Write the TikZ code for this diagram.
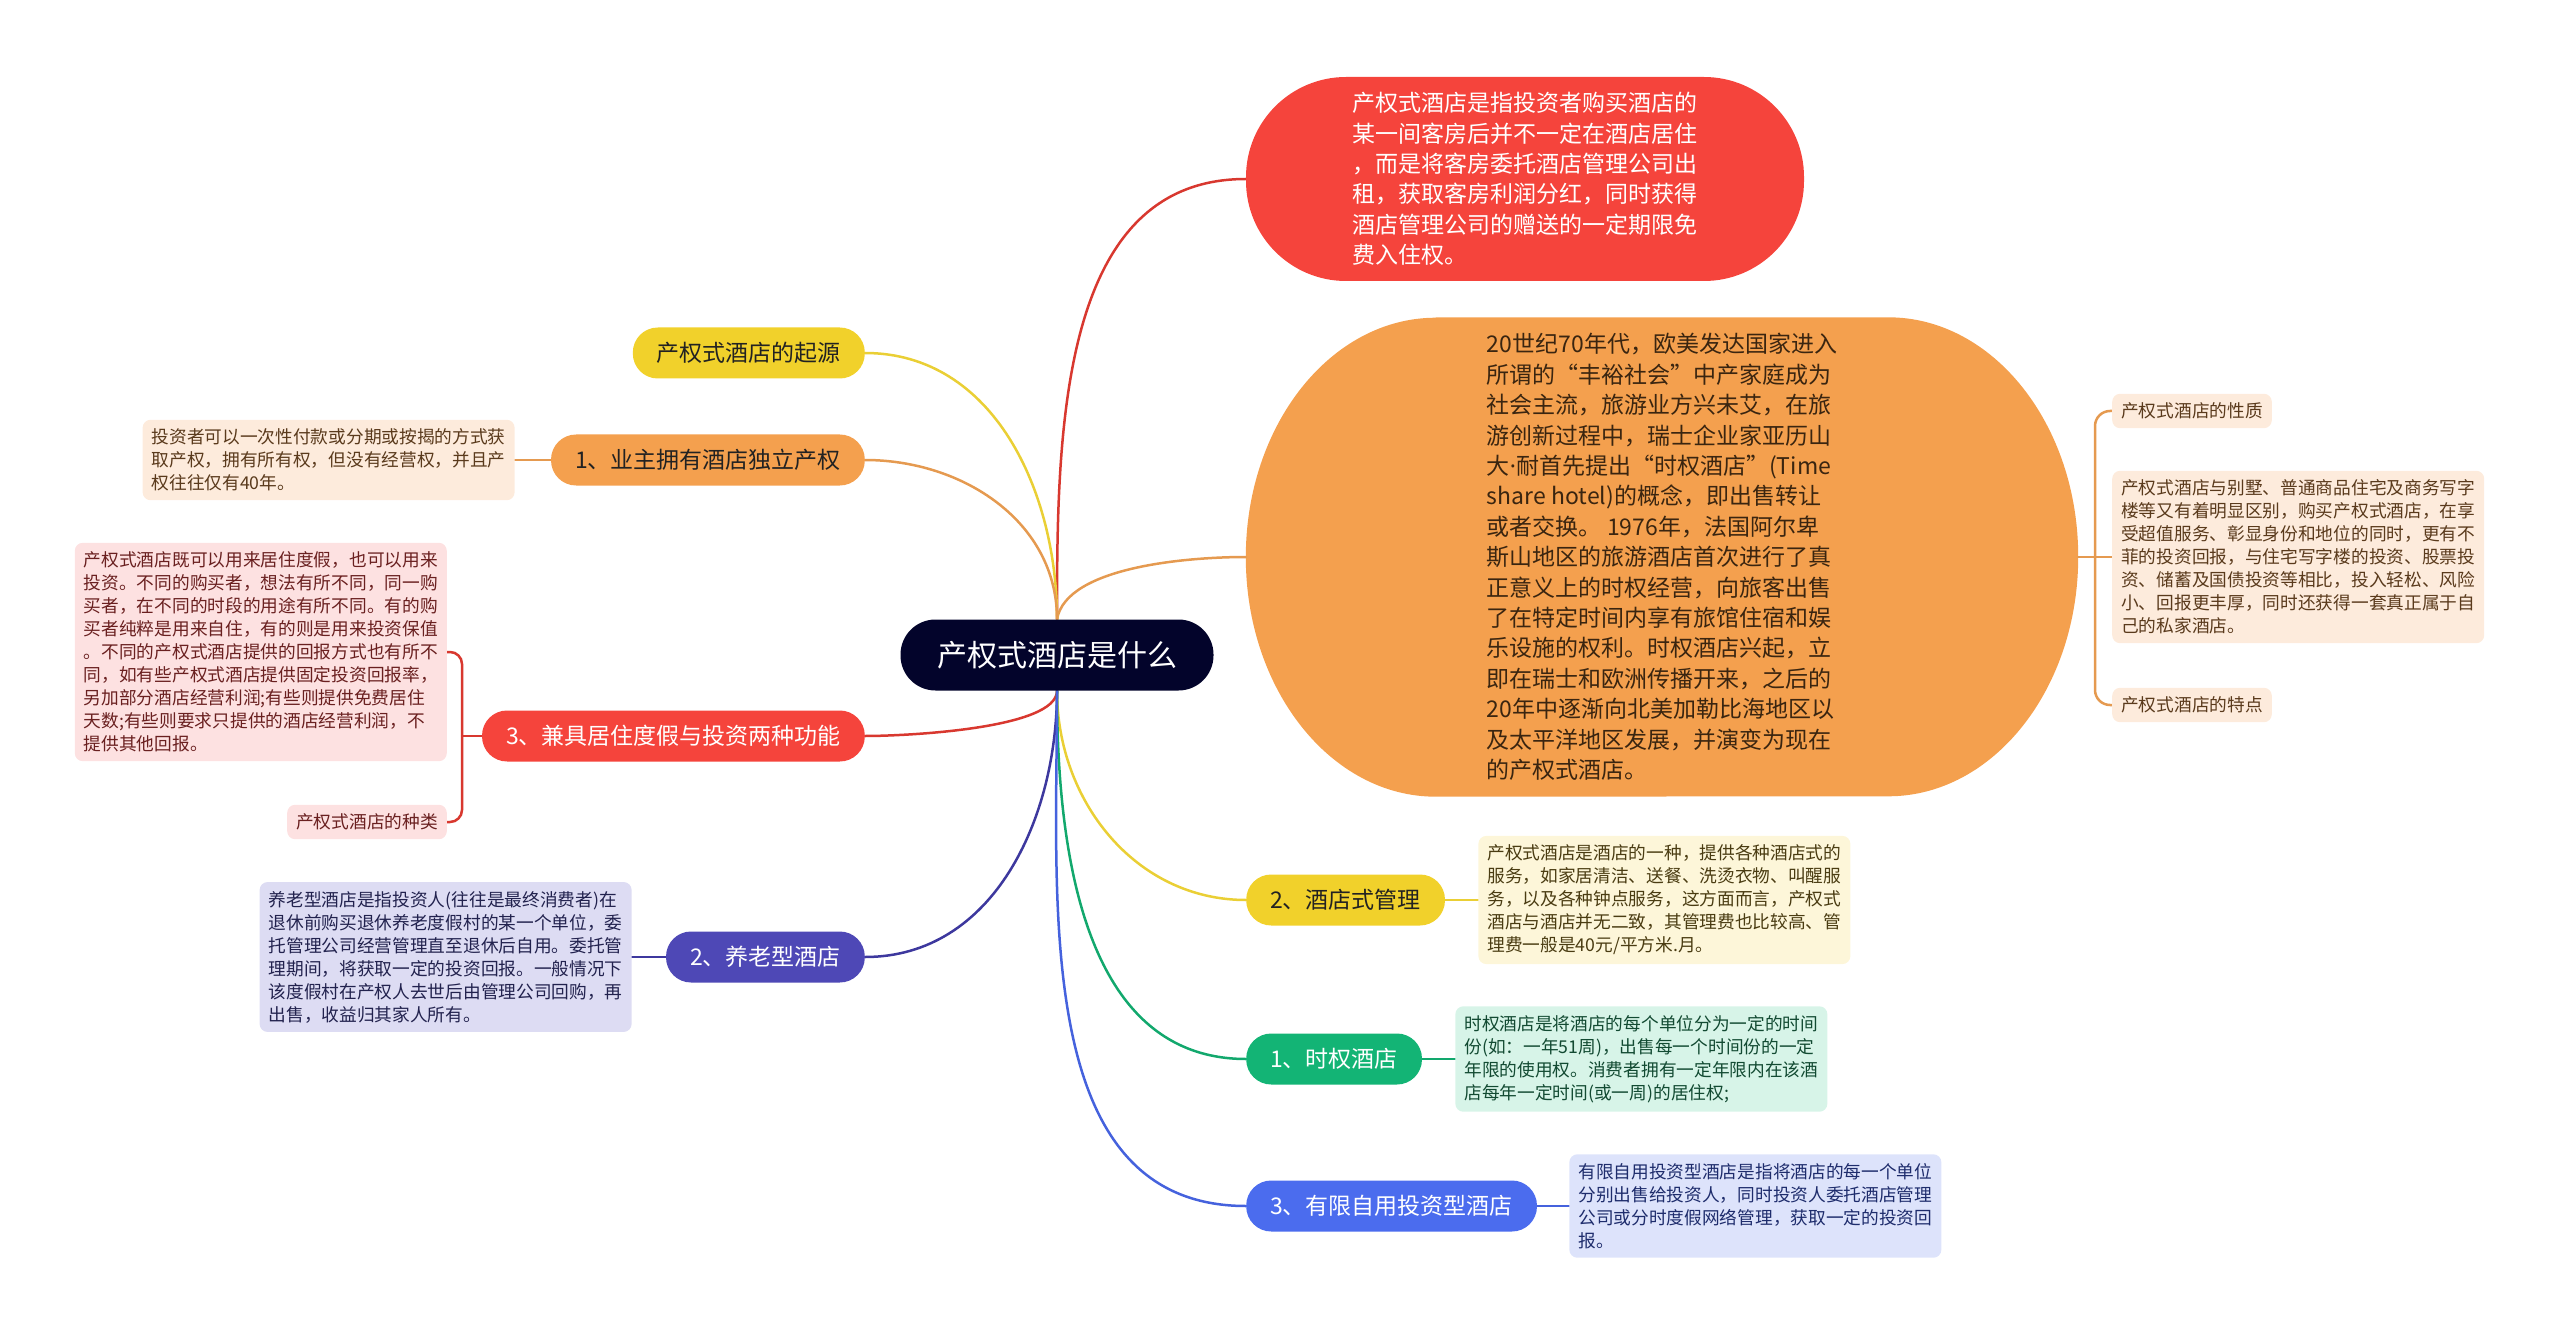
\documentclass[tikz,border=0pt]{standalone}
\usepackage{fontspec}
\setmainfont{Noto Sans CJK SC}
\newfontfamily\latinfont{Noto Sans}
\usepackage{tikz}
\usetikzlibrary{positioning,backgrounds,calc}

\definecolor{rootnavy}{HTML}{03042B}
\definecolor{redfill}{HTML}{F5443C}
\definecolor{redline}{HTML}{D8382F}
\definecolor{orangefill}{HTML}{F4A04E}
\definecolor{orangeline}{HTML}{E59A50}
\definecolor{yellowfill}{HTML}{F1D12B}
\definecolor{yellowline}{HTML}{EACF35}
\definecolor{purplefill}{HTML}{4E48B6}
\definecolor{purpleline}{HTML}{3D389E}
\definecolor{greenfill}{HTML}{13B475}
\definecolor{greenline}{HTML}{12A86D}
\definecolor{bluefill}{HTML}{4B6CEE}
\definecolor{blueline}{HTML}{4562DD}
\definecolor{darktext}{HTML}{222222}
\definecolor{bigtext}{HTML}{3A2510}
\definecolor{peachfill}{HTML}{FDEBDC}
\definecolor{peachtext}{HTML}{5A3A1C}
\definecolor{pinkfill}{HTML}{FDE1E1}
\definecolor{pinktext}{HTML}{6A2020}
\definecolor{lavfill}{HTML}{DDDCF3}
\definecolor{lavtext}{HTML}{22224E}
\definecolor{creamfill}{HTML}{FDF6D9}
\definecolor{creamtext}{HTML}{4A3C12}
\definecolor{mintfill}{HTML}{D7F4E8}
\definecolor{minttext}{HTML}{124A32}
\definecolor{perifill}{HTML}{DDE3FB}
\definecolor{peritext}{HTML}{1E2C6C}

\newcommand{\rootfont}{\fontsize{30}{36}\selectfont}
\newcommand{\topicfont}{\fontsize{23}{30.4}\selectfont}
\newcommand{\notefont}{\fontsize{17.7}{23}\selectfont}

\begin{document}
\begin{tikzpicture}[x=1pt, y=1pt,
  pill/.style={rounded corners=25pt, minimum height=51pt, inner xsep=24pt, inner ysep=0pt, font=\topicfont},
  note/.style={rounded corners=8pt, inner xsep=9pt, inner ysep=9pt, align=left, font=\notefont},
  longnote/.style={note, minimum width=372pt},
  branch/.style={line width=2.5pt, line cap=round}]
\useasboundingbox (0,0) rectangle (2560,-1337);

% Root
\node[fill=rootnavy, text=white, rounded corners=35pt, minimum width=313pt, minimum height=71pt, font=\rootfont] (root) at (1057,-655) {产权式酒店是什么};

% Right: definition and origin bubbles
\node[fill=redfill, text=white, rounded corners=100pt, minimum width=558pt, minimum height=204pt, align=left, font=\topicfont] (top) at (1525,-179) {产权式酒店是指投资者购买酒店的\\某一间客房后并不一定在酒店居住\\，而是将客房委托酒店管理公司出\\租，获取客房利润分红，同时获得\\酒店管理公司的赠送的一定期限免\\费入住权。};
\node[minimum width=832pt, minimum height=479pt, align=left, font=\topicfont, text=bigtext] (big) at (1662,-557) {20世纪70年代，欧美发达国家进入\\所谓的“丰裕社会”中产家庭成为\\社会主流，旅游业方兴未艾，在旅\\游创新过程中，瑞士企业家亚历山\\大{\latinfont ·}耐首先提出“时权酒店”(Time\\share hotel)的概念，即出售转让\\或者交换。 1976年，法国阿尔卑\\斯山地区的旅游酒店首次进行了真\\正意义上的时权经营，向旅客出售\\了在特定时间内享有旅馆住宿和娱\\乐设施的权利。时权酒店兴起，立\\即在瑞士和欧洲传播开来，之后的\\20年中逐渐向北美加勒比海地区以\\及太平洋地区发展，并演变为现在\\的产权式酒店。};

% Notes beside the origin bubble
\node[note, fill=peachfill, text=peachtext, anchor=west] (nature) at (2112,-411) {产权式酒店的性质};
\node[longnote, fill=peachfill, text=peachtext, anchor=west] (compare) at (2112,-557) {产权式酒店与别墅、普通商品住宅及商务写字\\楼等又有着明显区别，购买产权式酒店，在享\\受超值服务、彰显身份和地位的同时，更有不\\菲的投资回报，与住宅写字楼的投资、股票投\\资、储蓄及国债投资等相比，投入轻松、风险\\小、回报更丰厚，同时还获得一套真正属于自\\己的私家酒店。};
\node[note, fill=peachfill, text=peachtext, anchor=west] (feature) at (2112,-705) {产权式酒店的特点};

% Left branches
\node[pill, fill=yellowfill, text=darktext, anchor=east] (origin) at (865,-353) {产权式酒店的起源};
\node[pill, fill=orangefill, text=darktext, anchor=east] (own) at (865,-460) {1、业主拥有酒店独立产权};
\node[pill, fill=redfill, text=white, anchor=east] (dual) at (865,-736) {3、兼具居住度假与投资两种功能};
\node[pill, fill=purplefill, text=white, anchor=east] (pension) at (865,-957) {2、养老型酒店};

% Right branches
\node[pill, fill=yellowfill, text=darktext, anchor=west] (mgmt) at (1246,-900) {2、酒店式管理};
\node[pill, fill=greenfill, text=white, anchor=west] (tshare) at (1246,-1059) {1、时权酒店};
\node[pill, fill=bluefill, text=white, anchor=west] (limited) at (1246,-1206) {3、有限自用投资型酒店};

% Notes
\node[longnote, fill=peachfill, text=peachtext, left=36pt of own] (ownnote) {投资者可以一次性付款或分期或按揭的方式获\\取产权，拥有所有权，但没有经营权，并且产\\权往往仅有40年。};
\node[longnote, fill=pinkfill, text=pinktext, anchor=east] (dualnote) at (447,-652) {产权式酒店既可以用来居住度假，也可以用来\\投资。不同的购买者，想法有所不同，同一购\\买者，在不同的时段的用途有所不同。有的购\\买者纯粹是用来自住，有的则是用来投资保值\\。不同的产权式酒店提供的回报方式也有所不\\同，如有些产权式酒店提供固定投资回报率，\\另加部分酒店经营利润;有些则提供免费居住\\天数;有些则要求只提供的酒店经营利润，不\\提供其他回报。};
\node[note, fill=pinkfill, text=pinktext, anchor=east] (dualkind) at (447,-822) {产权式酒店的种类};
\node[longnote, fill=lavfill, text=lavtext, left=34pt of pension] (pensionnote) {养老型酒店是指投资人(往往是最终消费者)在\\退休前购买退休养老度假村的某一个单位，委\\托管理公司经营管理直至退休后自用。委托管\\理期间，将获取一定的投资回报。一般情况下\\该度假村在产权人去世后由管理公司回购，再\\出售，收益归其家人所有。};
\node[longnote, fill=creamfill, text=creamtext, right=33pt of mgmt] (mgmtnote) {产权式酒店是酒店的一种，提供各种酒店式的\\服务，如家居清洁、送餐、洗烫衣物、叫醒服\\务，以及各种钟点服务，这方面而言，产权式\\酒店与酒店并无二致，其管理费也比较高、管\\理费一般是40元/平方米.月。};
\node[longnote, fill=mintfill, text=minttext, right=33pt of tshare] (tsharenote) {时权酒店是将酒店的每个单位分为一定的时间\\份(如：一年51周)，出售每一个时间份的一定\\年限的使用权。消费者拥有一定年限内在该酒\\店每年一定时间(或一周)的居住权;};
\node[longnote, fill=perifill, text=peritext, right=32pt of limited] (limitednote) {有限自用投资型酒店是指将酒店的每一个单位\\分别出售给投资人，同时投资人委托酒店管理\\公司或分时度假网络管理，获取一定的投资回\\报。};

\coordinate (bigfork) at (2095,-557);
\coordinate (dualfork) at (462,-736);

\begin{scope}[on background layer]
% origin bubble outline
\fill[orangefill] ([xshift=190pt]big.north west) -- ([xshift=-190pt]big.north east)
  arc[start angle=90, end angle=-90, x radius=190pt, y radius=239.5pt]
  -- ([xshift=190pt]big.south west)
  arc[start angle=270, end angle=90, x radius=190pt, y radius=239.5pt] -- cycle;

% Branches from the root
\draw[branch, redline] (root.north) to[out=90, in=180] (top.west);
\draw[branch, orangeline] (root.north) to[out=80, in=180, looseness=0.7] (big.west);
\draw[branch, yellowline] (root.north) to[out=90, in=0] (origin.east);
\draw[branch, orangeline] (root.north) to[out=90, in=0] (own.east);
\draw[branch, redline] (root.south) to[out=-90, in=0, looseness=0.5] (dual.east);
\draw[branch, purpleline] (root.south) to[out=-90, in=0] (pension.east);
\draw[branch, yellowline] (root.south) to[out=-90, in=180] (mgmt.west);
\draw[branch, greenline] (root.south) to[out=-90, in=180] (tshare.west);
\draw[branch, blueline] (root.south) to[out=-90, in=180] (limited.west);

% Branches to the notes
\draw[branch, orangeline] (big.east) -- (compare.west);
\draw[branch, orangeline, rounded corners=15pt] (nature.west) -| (bigfork) |- (feature.west);
\draw[branch, orangeline] (own.west) -- (ownnote.east);
\draw[branch, redline] (dual.west) -- (dualfork);
\draw[branch, redline, rounded corners=12pt] (dualnote.east) -| (dualfork) |- (dualkind.east);
\draw[branch, purpleline] (pension.west) -- (pensionnote.east);
\draw[branch, yellowline] (mgmt.east) -- (mgmtnote.west);
\draw[branch, greenline] (tshare.east) -- (tsharenote.west);
\draw[branch, blueline] (limited.east) -- (limitednote.west);
\end{scope}
\end{tikzpicture}
\end{document}
